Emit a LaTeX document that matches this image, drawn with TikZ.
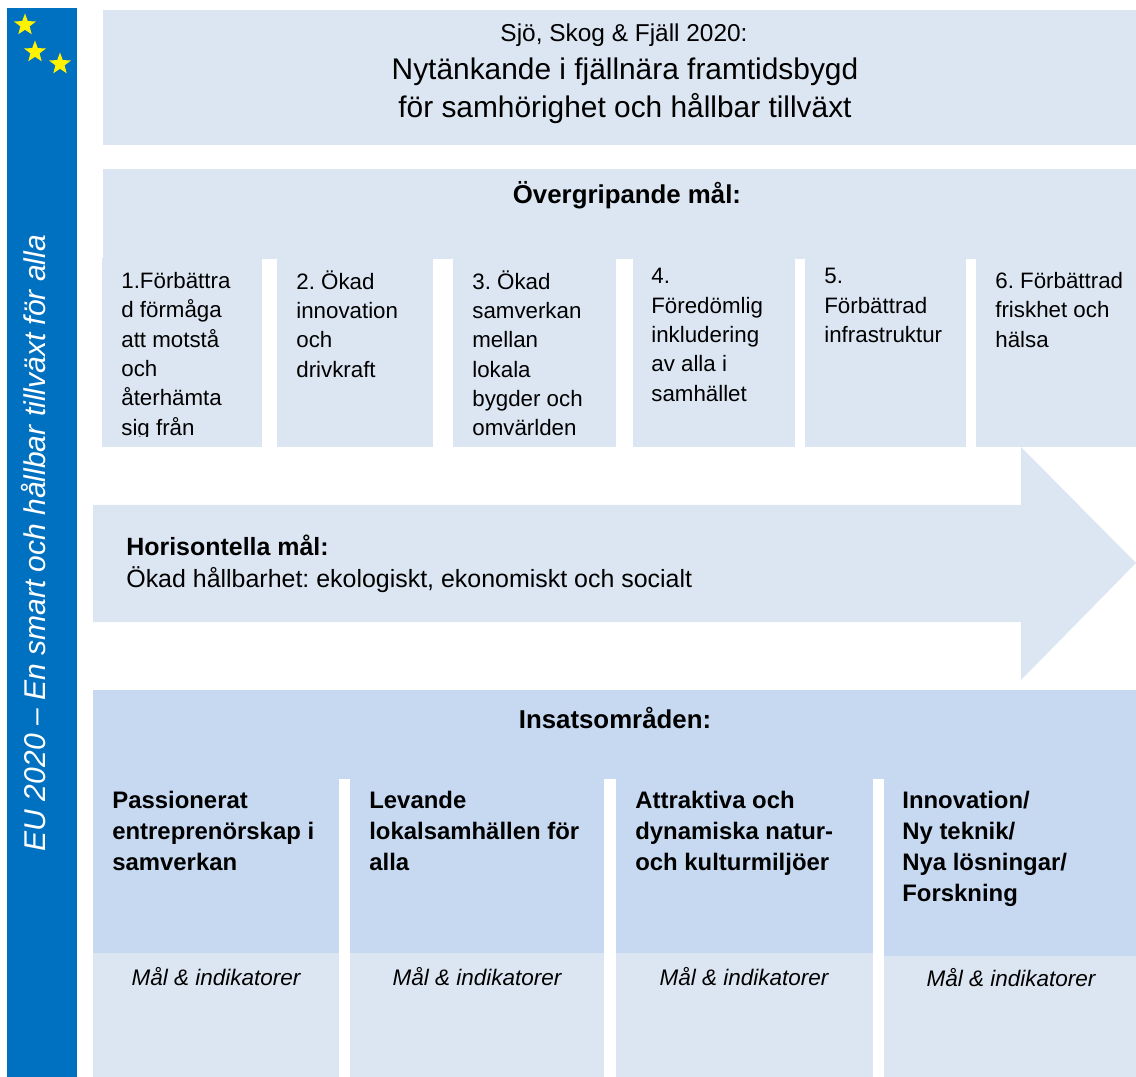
\documentclass[tikz,border=0pt]{standalone}
\usepackage{fontspec}
\setmainfont{Liberation Sans}
\usetikzlibrary{shapes.geometric}
\definecolor{paleblue}{RGB}{220,230,242}
\definecolor{midblue}{RGB}{198,217,241}
\definecolor{eublue}{RGB}{0,112,192}
\newcommand{\fsz}[2]{\fontsize{#1}{#2}\selectfont}
\frenchspacing
\tikzset{
  goaltext/.style={anchor=north west, align=left, inner sep=0pt, font=\fsz{12.7pt}{16.7pt}},
  areatext/.style={anchor=north west, align=left, inner sep=0pt, font=\bfseries\fsz{13.6pt}{17.6pt}},
  headtext/.style={inner sep=0pt, font=\bfseries\fsz{14.7pt}{17pt}},
  indtext/.style={inner sep=0pt, font=\itshape\fsz{12.8pt}{15pt}},
  eustar/.style={star, star points=5, star point ratio=2.4, fill=yellow, inner sep=0pt, minimum size=0.46cm},
}

\begin{document}
\begin{tikzpicture}[x=0.02cm, y=-0.02cm]
\useasboundingbox (0,0) rectangle (1136,1077);

% side bar
\fill[eublue] (7,8) rectangle (77,1077);
\node[eustar] (s1) at (25,25) {};
\node[eustar] (s2) at (35,52) {};
\node[eustar] (s3) at (60,64) {};
\node[rotate=90, text=white, inner sep=0pt, font=\itshape\fsz{17.1pt}{19pt}] (eu) at (34,543) {EU 2020 – En smart och hållbar tillväxt för alla};

% title
\fill[paleblue] (103,10) rectangle (1136,145);
\node[inner sep=0pt, font=\fsz{13.9pt}{16pt}] (title) at (624,35) {Sjö, Skog \& Fjäll 2020:};
\node[inner sep=0pt, align=center, font=\fsz{17pt}{21.5pt}] (subtitle) at (625,91) {Nytänkande i fjällnära framtidsbygd\\för samhörighet och hållbar tillväxt};

% overgripande mal
\fill[paleblue] (103,169) rectangle (1136,259);
\fill[paleblue] (102,258) rectangle (262,447);
\fill[paleblue] (277,258) rectangle (433,447);
\fill[paleblue] (453,258) rectangle (616,447);
\fill[paleblue] (633,258) rectangle (795,447);
\fill[paleblue] (805,258) rectangle (966,447);
\fill[paleblue] (976,258) rectangle (1136,447);
\node[headtext] (goals) at (627,195) {Övergripande mål:};
\begin{scope}
  \clip (102,258) rectangle (1136,437);
  \node[goaltext] (g1) at (121,272) {1.Förbättra\\d förmåga\\att motstå\\och\\återhämta\\sig från};
  \node[goaltext] (g2) at (296,270) {2. Ökad\\innovation\\och\\drivkraft};
  \node[goaltext] (g3) at (472,270) {3. Ökad\\samverkan\\mellan\\lokala\\bygder och\\omvärlden};
  \node[goaltext] (g4) at (651,268) {4.\\Föredömlig\\inkludering\\av alla i\\samhället};
  \node[goaltext] (g5) at (824,268) {5.\\Förbättrad\\infrastruktur};
  \node[goaltext] (g6) at (995,272) {6. Förbättrad\\friskhet och\\hälsa};
\end{scope}

% horisontella mal
\fill[paleblue] (93,505) -- (1021,505) -- (1021,447) -- (1136,563) -- (1021,680) -- (1021,622) -- (93,622) -- cycle;
\node[anchor=north west, align=left, inner sep=0pt, font=\fsz{14.2pt}{18.1pt}] (horis) at (126,535) {\textbf{Horisontella mål:}\\Ökad hållbarhet: ekologiskt, ekonomiskt och socialt};

% insatsomraden
\fill[midblue] (93,690) rectangle (1136,779);
\fill[midblue] (93,778) rectangle (339,953);
\fill[midblue] (350,778) rectangle (604,953);
\fill[midblue] (616,778) rectangle (873,953);
\fill[midblue] (884,778) rectangle (1136,956);
\fill[paleblue] (93,953) rectangle (339,1077);
\fill[paleblue] (350,953) rectangle (604,1077);
\fill[paleblue] (616,953) rectangle (873,1077);
\fill[paleblue] (884,956) rectangle (1136,1077);
\node[headtext] (areas) at (615,718) {Insatsområden:};
\node[areatext] (a1) at (112,791) {Passionerat\\entreprenörskap i\\samverkan};
\node[areatext] (a2) at (369,791) {Levande\\lokalsamhällen för\\alla};
\node[areatext] (a3) at (635,791) {Attraktiva och\\dynamiska natur-\\och kulturmiljöer};
\node[areatext] (a4) at (902,791) {Innovation/\\Ny teknik/\\Nya lösningar/\\Forskning};
\node[indtext] (m1) at (216,977) {Mål \& indikatorer};
\node[indtext] (m2) at (477,977) {Mål \& indikatorer};
\node[indtext] (m3) at (744,977) {Mål \& indikatorer};
\node[indtext] (m4) at (1011,978) {Mål \& indikatorer};
\end{tikzpicture}
\end{document}
